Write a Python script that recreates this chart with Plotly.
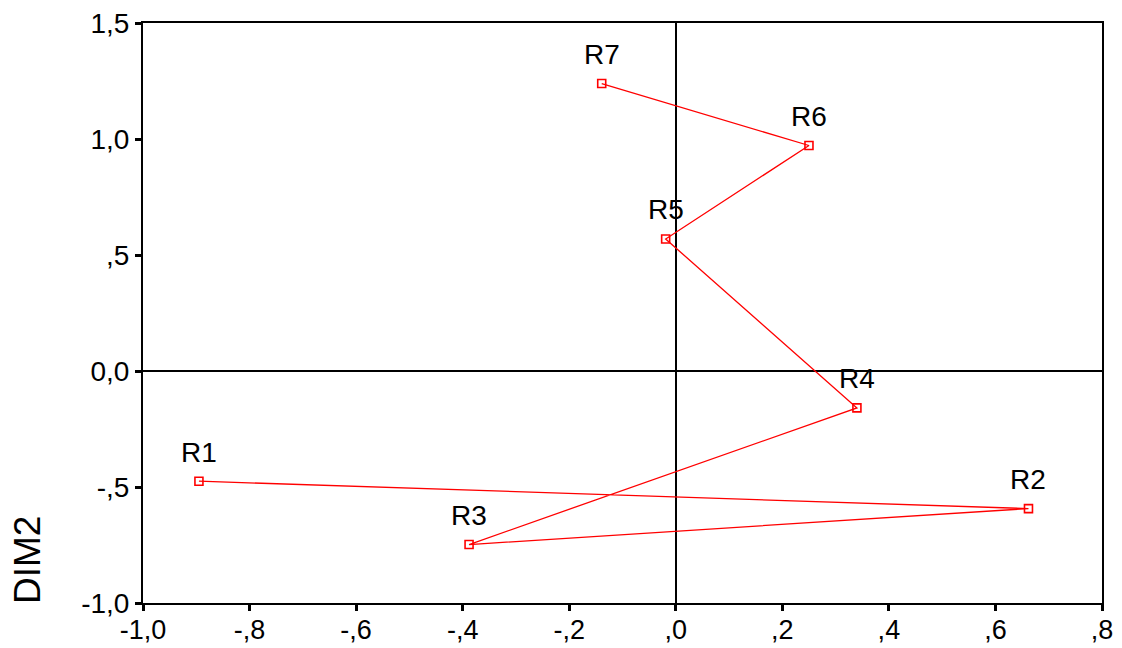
import plotly.graph_objects as go

# Object scores on the two dimensions
labels = ["R1", "R2", "R3", "R4", "R5", "R6", "R7"]
dim1 = [-0.895, 0.662, -0.388, 0.340, -0.019, 0.250, -0.139]
dim2 = [-0.475, -0.593, -0.748, -0.159, 0.569, 0.972, 1.239]

x_tickvals = [-1.0, -0.8, -0.6, -0.4, -0.2, 0.0, 0.2, 0.4, 0.6, 0.8]
x_ticktext = ["-1,0", "-,8", "-,6", "-,4", "-,2", ",0", ",2", ",4", ",6", ",8"]
y_tickvals = [-1.0, -0.5, 0.0, 0.5, 1.0, 1.5]
y_ticktext = ["-1,0", "-,5", "0,0", ",5", "1,0", "1,5"]

FONT = "Liberation Sans, Arial, sans-serif"

fig = go.Figure()
fig.add_trace(go.Scatter(
    x=dim1, y=dim2, mode="lines+markers",
    line=dict(color="#ff0000", width=1.3),
    marker=dict(symbol="square-open", size=8, color="#ff0000",
                line=dict(color="#ff0000", width=1.6)),
    showlegend=False, hoverinfo="skip",
))

for name, xv, yv in zip(labels, dim1, dim2):
    fig.add_annotation(x=xv, y=yv, text=name, showarrow=False,
                       xanchor="center", yanchor="middle", yshift=29,
                       font=dict(family=FONT, size=28, color="black"))

fig.add_annotation(xref="paper", yref="paper", x=-0.121, y=0.074,
                   text="DIM2", textangle=-90, showarrow=False,
                   xanchor="center", yanchor="middle",
                   font=dict(family=FONT, size=37, color="black"))

axis_common = dict(
    showgrid=False, showline=True, linecolor="black", linewidth=2,
    mirror=True, ticks="outside", ticklen=6, tickwidth=3, tickcolor="black",
    zeroline=True, zerolinecolor="black", zerolinewidth=1.5,
    automargin=False,
)

fig.update_xaxes(range=[-1.0, 0.8], tickvals=x_tickvals, ticktext=x_ticktext,
                 tickfont=dict(family=FONT, size=27, color="black"),
                 ticklabelstandoff=-4, **axis_common)
fig.update_yaxes(range=[-1.0, 1.5], tickvals=y_tickvals, ticktext=y_ticktext,
                 tickfont=dict(family=FONT, size=28, color="black"),
                 **axis_common)

fig.update_layout(
    width=1122, height=648,
    margin=dict(l=143, r=20, t=23, b=45),
    paper_bgcolor="white", plot_bgcolor="white",
    font=dict(family=FONT, color="black"),
)

fig.write_html("out.html")
